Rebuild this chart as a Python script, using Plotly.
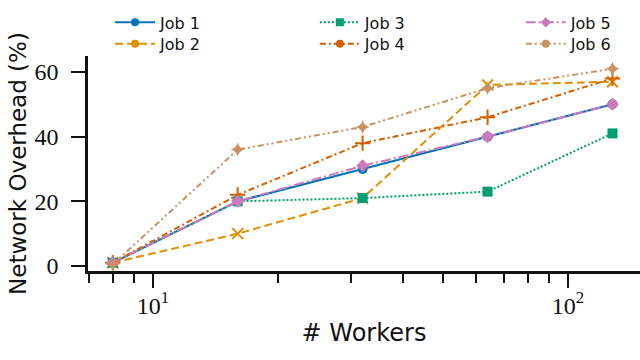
import plotly.graph_objects as go

# ── data ──────────────────────────────────────────────────────────────────────
workers = [8, 16, 32, 64, 128]
job1 = [1, 20, 30, 40, 50]
job2 = [1, 10, 21, 56, 57]
job3 = [1, 20, 21, 23, 41]
job4 = [1, 22, 38, 46, 58]
job5 = [1, 20, 31, 40, 50]
job6 = [0.5, 36, 43, 55, 61]

names = ["Job 1", "Job 2", "Job 3", "Job 4", "Job 5", "Job 6"]
series = [job1, job2, job3, job4, job5, job6]

x_tickvals = [10, 100]
x_ticktext = ["10<sup>1</sup>", "10<sup>2</sup>"]
x_minor = [7, 8, 9, 20, 30, 40, 50, 60, 70, 80, 90]
y_tickvals = [0, 20, 40, 60]

# ── styles ────────────────────────────────────────────────────────────────────
colors = ["#0173b2", "#de8f05", "#029e73", "#d55e00", "#cc78bc", "#ca9161"]
dashes = ["solid", "8px,4px", "2px,2px", "6px,3px,2px,3px",
          "10px,3px,2px,3px", "6px,3px,2px,3px,2px,3px"]
symbols = ["circle", "x-thin", "square", "cross-thin", "diamond", "star-diamond"]
leg_symbols = ["circle", "circle", "square", "circle", "diamond", "circle"]

SANS = "DejaVu Sans"
SERIF = "Liberation Serif"

# legend slots: (x paper, y paper) -> 3 columns x 2 rows
leg_x = [0.040, 0.040, 0.411, 0.411, 0.784, 0.784]
leg_y = [1.156, 1.057, 1.156, 1.057, 1.156, 1.057]

fig = go.Figure()
for i, (name, ys, c, d, s) in enumerate(zip(names, series, colors, dashes, symbols)):
    thin = s.endswith("-thin")
    fig.add_trace(go.Scatter(
        x=workers, y=ys, name=name, mode="lines+markers", showlegend=False,
        line=dict(color=c, width=2, dash=d),
        marker=dict(symbol=s, size=11 if thin else 10, color=c,
                    line=dict(color=c, width=2 if thin else 0)),
    ))
    # legend-only entry (small marker like the reference legend)
    lg = "legend" if i == 0 else f"legend{i + 1}"
    fig.add_trace(go.Scatter(
        x=[None], y=[None], name=name, mode="lines+markers", legend=lg,
        line=dict(color=c, width=2, dash=d),
        marker=dict(symbol=leg_symbols[i], size=8, color=c),
    ))

layout_legends = {}
for i in range(6):
    key = "legend" if i == 0 else f"legend{i + 1}"
    layout_legends[key] = dict(
        orientation="v", x=leg_x[i], xanchor="left", y=leg_y[i], yanchor="middle",
        font=dict(family=SANS, size=16, color="#111"),
        bgcolor="rgba(0,0,0,0)", itemwidth=40,
    )

fig.update_layout(
    width=640, height=360,
    margin=dict(l=88, r=0, t=56, b=89, autoexpand=False),
    plot_bgcolor="white", paper_bgcolor="white",
    font=dict(family=SANS, color="#111"),
    **layout_legends,
)
fig.update_xaxes(
    type="log", range=[0.8434, 2.1735],
    tickvals=x_tickvals, ticktext=x_ticktext,
    ticks="outside", ticklen=14, tickwidth=2, tickcolor="#111",
    minor=dict(tickvals=x_minor, ticks="outside", ticklen=9, tickwidth=2,
               tickcolor="#111", showgrid=False),
    showline=True, linecolor="#111", linewidth=2.5, showgrid=False, zeroline=False,
    tickfont=dict(family=SERIF, size=24), ticklabelstandoff=-3,
    title=dict(text="# Workers", font=dict(family=SANS, size=24), standoff=7),
)
fig.update_yaxes(
    range=[-1.55, 64.95], tickvals=y_tickvals,
    ticks="outside", ticklen=14, tickwidth=2, tickcolor="#111",
    showline=True, linecolor="#111", linewidth=2.5, showgrid=False, zeroline=False,
    tickfont=dict(family=SERIF, size=24), ticklabelstandoff=8,
    title=dict(text="Network Overhead (%)", font=dict(family=SANS, size=23), standoff=2),
)

# the page body has a default 8px margin; drop it so the figure sits at 0,0
fig.write_html("out.html", config={"displayModeBar": False},
               post_script="document.body.style.margin='0';")
